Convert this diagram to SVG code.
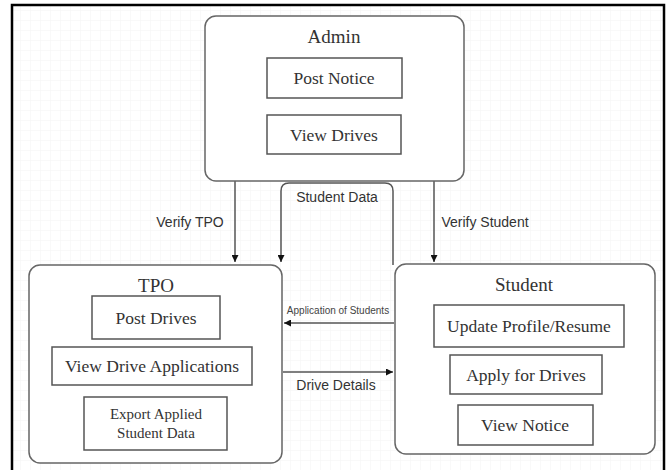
<svg xmlns="http://www.w3.org/2000/svg" width="669" height="470" viewBox="0 0 669 470">
<defs>
<style>
.bg{fill:#ffffff}
.frame{fill:none;stroke:#000;stroke-width:2.5}
.node{fill:#fff;stroke:#666;stroke-width:1.5}
.item{fill:#fff;stroke:#555;stroke-width:1.5}
.title{font-family:"Liberation Serif",serif;font-size:19px;fill:#333;text-anchor:middle}
.itxt{font-family:"Liberation Serif",serif;font-size:17.5px;fill:#333;text-anchor:middle}
.stxt{font-family:"Liberation Serif",serif;font-size:15px;fill:#333;text-anchor:middle}
.lbl{font-family:"Liberation Sans",sans-serif;font-size:14px;fill:#333;text-anchor:middle}
.lblsm{font-family:"Liberation Sans",sans-serif;font-size:10px;fill:#444;text-anchor:middle}
.edge{fill:none;stroke:#555;stroke-width:1.5}
</style>
<pattern id="grid" width="10" height="10" patternUnits="userSpaceOnUse">
<path d="M10 0H0V10" fill="none" stroke="#f4f4f4" stroke-width="1"/>
</pattern>
<marker id="arr" viewBox="0 0 10 10" refX="10" refY="5" markerWidth="7" markerHeight="7" orient="auto" markerUnits="userSpaceOnUse">
<path d="M0 0L10 5L0 10z" fill="#111"/>
</marker>
</defs>
<rect class="bg" x="0" y="0" width="669" height="470"/>
<rect x="12" y="5" width="652" height="470" fill="url(#grid)"/>
<rect class="frame" x="12" y="5" width="652" height="475"/>

<g id="connectors">
<path class="edge" d="M235 181V262" marker-end="url(#arr)"/>
<path class="edge" d="M434 181V262" marker-end="url(#arr)"/>
<path class="edge" d="M393 265V191Q393 183 385 183H289Q281 183 281 191V262" marker-end="url(#arr)"/>
<path class="edge" d="M394 323H284" marker-end="url(#arr)"/>
<path class="edge" d="M283 372H393" marker-end="url(#arr)"/>
<text class="lbl" x="190" y="227">Verify TPO</text>
<text class="lbl" x="485" y="227">Verify Student</text>
<text class="lbl" x="337" y="202">Student Data</text>
<text class="lblsm" x="338" y="314">Application of Students</text>
<text class="lbl" x="336" y="390">Drive Details</text>
</g>

<g id="admin">
<rect class="node" x="205" y="16" width="259" height="165" rx="11"/>
<text class="title" x="334" y="43">Admin</text>
<rect class="item" x="267" y="58" width="135" height="40"/>
<text class="itxt" x="334" y="84">Post Notice</text>
<rect class="item" x="267" y="115" width="134" height="39"/>
<text class="itxt" x="334" y="141">View Drives</text>
</g>

<g id="tpo">
<rect class="node" x="29" y="265" width="253" height="198" rx="11"/>
<text class="title" x="156" y="292">TPO</text>
<rect class="item" x="92" y="296" width="128" height="43"/>
<text class="itxt" x="156" y="324">Post Drives</text>
<rect class="item" x="52" y="347" width="200" height="38"/>
<text class="itxt" x="152" y="372">View Drive Applications</text>
<rect class="item" x="84" y="397" width="143" height="53"/>
<text class="stxt" x="156" y="419">Export Applied</text>
<text class="stxt" x="156" y="438">Student Data</text>
</g>

<g id="student">
<rect class="node" x="395" y="264" width="260" height="190" rx="11"/>
<text class="title" x="524" y="291">Student</text>
<rect class="item" x="434" y="305" width="190" height="42"/>
<text class="itxt" x="529" y="332">Update Profile/Resume</text>
<rect class="item" x="450" y="355" width="152" height="39"/>
<text class="itxt" x="526" y="381">Apply for Drives</text>
<rect class="item" x="458" y="405" width="135" height="40"/>
<text class="itxt" x="525" y="431">View Notice</text>
</g>
</svg>
